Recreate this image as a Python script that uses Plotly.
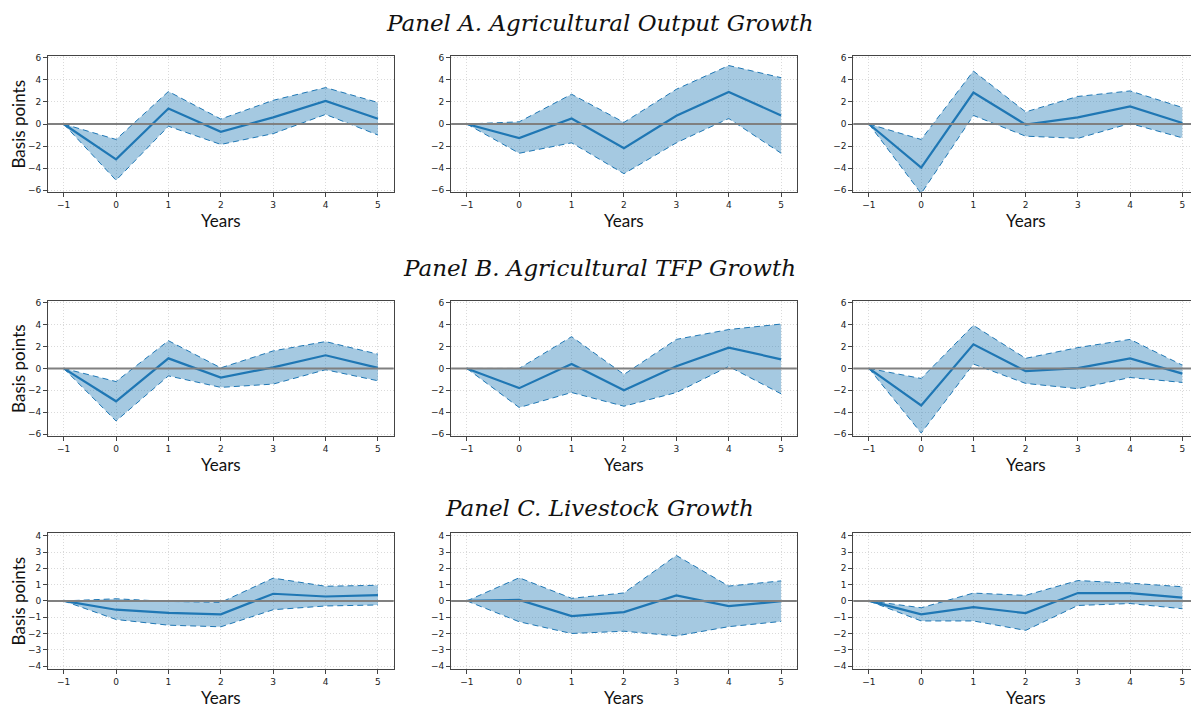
import plotly.graph_objects as go

years = [-1, 0, 1, 2, 3, 4, 5]

panel_titles = ["Panel A. Agricultural Output Growth",
                "Panel B. Agricultural TFP Growth",
                "Panel C. Livestock Growth"]

# Panel A
a1_est = [0, -3.2, 1.4, -0.7, 0.6, 2.1, 0.48]
a1_hi = [0, -1.4, 2.95, 0.45, 2.15, 3.3, 1.95]
a1_lo = [0, -5.1, -0.2, -1.85, -0.87, 0.87, -1.0]

a2_est = [0, -1.28, 0.5, -2.2, 0.75, 2.9, 0.78]
a2_hi = [0, 0.2, 2.7, 0.15, 3.15, 5.3, 4.2]
a2_lo = [0, -2.65, -1.7, -4.5, -1.7, 0.5, -2.65]

a3_est = [0, -3.95, 2.85, -0.05, 0.6, 1.6, 0.1]
a3_hi = [0, -1.4, 4.8, 1.1, 2.5, 3.0, 1.5]
a3_lo = [0, -6.3, 0.78, -1.1, -1.3, 0.05, -1.25]

# Panel B
b1_est = [0, -3.0, 0.92, -0.83, 0.1, 1.2, 0.05]
b1_hi = [0, -1.2, 2.53, 0.05, 1.6, 2.45, 1.3]
b1_lo = [0, -4.8, -0.68, -1.73, -1.43, -0.12, -1.13]

b2_est = [0, -1.8, 0.4, -2.0, 0.2, 1.9, 0.83]
b2_hi = [0, 0.0, 2.9, -0.55, 2.65, 3.55, 4.05]
b2_lo = [0, -3.57, -2.2, -3.45, -2.2, 0.18, -2.32]

b3_est = [0, -3.38, 2.2, -0.25, 0.03, 0.92, -0.48]
b3_hi = [0, -0.92, 3.93, 0.92, 1.9, 2.65, 0.3]
b3_lo = [0, -5.9, 0.4, -1.37, -1.85, -0.83, -1.28]

# Panel C
c1_est = [0, -0.54, -0.74, -0.82, 0.44, 0.27, 0.35]
c1_hi = [0, 0.13, -0.03, -0.09, 1.4, 0.9, 0.96]
c1_lo = [0, -1.14, -1.49, -1.59, -0.54, -0.31, -0.25]

c2_est = [0, 0.06, -0.93, -0.69, 0.34, -0.32, -0.02]
c2_hi = [0, 1.42, 0.16, 0.49, 2.79, 0.91, 1.23]
c2_lo = [0, -1.28, -2.0, -1.86, -2.15, -1.58, -1.26]

c3_est = [0, -0.83, -0.38, -0.75, 0.48, 0.48, 0.2]
c3_hi = [0, -0.42, 0.48, 0.34, 1.25, 1.09, 0.87]
c3_lo = [0, -1.23, -1.23, -1.81, -0.28, -0.16, -0.48]

panels = [
    [(a1_est, a1_hi, a1_lo), (a2_est, a2_hi, a2_lo), (a3_est, a3_hi, a3_lo)],
    [(b1_est, b1_hi, b1_lo), (b2_est, b2_hi, b2_lo), (b3_est, b3_hi, b3_lo)],
    [(c1_est, c1_hi, c1_lo), (c2_est, c2_hi, c2_lo), (c3_est, c3_hi, c3_lo)],
]

# page has an 8px body margin; figure coordinates are page coordinates minus OFF
OFF = 8
W, H = 1199 - OFF, 710 - OFF
col_px = [(48, 394), (451.5, 797.5), (854, 1199)]
row_px = [(53, 191), (300, 437), (534, 672)]
y_ranges = [(-6.2, 6.2), (-6.2, 6.2), (-4.2, 4.2)]
y_ticks = [[-6, -4, -2, 0, 2, 4, 6], [-6, -4, -2, 0, 2, 4, 6], [-4, -3, -2, -1, 0, 1, 2, 3, 4]]
title_y_px = [20, 267, 509]


def px(v):
    return (v - OFF) / W


def py(v):
    return 1 - (v - OFF) / H


blue = "#1f77b4"
fillc = "rgba(31,119,180,0.4)"
tickfont = dict(family="DejaVu Sans", size=9, color="#222222")
labfont = dict(family="Lato", size=17, color="#111111")

fig = go.Figure()
annotations = []
shapes = []
layout = {}

k = 0
for r in range(3):
    for c in range(3):
        k += 1
        est, hi, lo = panels[r][c]
        xa = "x" if k == 1 else f"x{k}"
        ya = "y" if k == 1 else f"y{k}"
        fig.add_trace(go.Scatter(x=years, y=lo, mode="lines", line=dict(width=0),
                                 xaxis=xa, yaxis=ya, showlegend=False, hoverinfo="skip"))
        fig.add_trace(go.Scatter(x=years, y=hi, mode="lines", line=dict(width=0),
                                 fill="tonexty", fillcolor=fillc,
                                 xaxis=xa, yaxis=ya, showlegend=False, hoverinfo="skip"))
        for b in (hi, lo):
            fig.add_trace(go.Scatter(x=years, y=b, mode="lines",
                                     line=dict(color=blue, width=1, dash="6px,4px"),
                                     xaxis=xa, yaxis=ya, showlegend=False))
        x0, x1 = col_px[c]
        y0, y1 = row_px[r]
        shapes.append(dict(type="line", xref=f"{xa} domain", yref=ya, x0=0, x1=1, y0=0, y1=0,
                           line=dict(color="#808080", width=2), layer="above"))
        fig.add_trace(go.Scatter(x=years, y=est, mode="lines",
                                 line=dict(color=blue, width=2.2),
                                 xaxis=xa, yaxis=ya, showlegend=False))
        axis_common = dict(showline=True, linecolor="#444444", linewidth=1, mirror=True,
                           ticks="outside", ticklen=4, tickcolor="#444444", tickwidth=1,
                           showgrid=True, gridcolor="#dadada", griddash="1px,2px", gridwidth=1,
                           zeroline=False, tickfont=tickfont)
        layout["xaxis" if k == 1 else f"xaxis{k}"] = dict(
            domain=[px(x0), min(1, px(x1))], anchor=ya, range=[-1.3, 5.3],
            tickvals=years, **axis_common)
        layout["yaxis" if k == 1 else f"yaxis{k}"] = dict(
            domain=[py(y1), py(y0)], anchor=xa, range=list(y_ranges[r]),
            tickvals=y_ticks[r], **axis_common)
        annotations.append(dict(text="Years", xref="paper", yref="paper",
                                x=px((x0 + x1) / 2), y=py(y1 + 28),
                                showarrow=False, font=labfont, xanchor="center", yanchor="middle"))
    annotations.append(dict(text="Basis points", xref="paper", yref="paper",
                            x=px(18.5), y=py((row_px[r][0] + row_px[r][1]) / 2),
                            textangle=-90, showarrow=False, font=labfont,
                            xanchor="center", yanchor="middle"))
    annotations.append(dict(text="<i>" + panel_titles[r] + "</i>", xref="paper", yref="paper",
                            x=px(600), y=py(title_y_px[r]), showarrow=False,
                            font=dict(family="DejaVu Serif", size=23, color="#111111"),
                            xanchor="center", yanchor="middle"))

fig.update_layout(width=W, height=H, margin=dict(l=0, r=0, t=0, b=0),
                  paper_bgcolor="white", plot_bgcolor="white",
                  annotations=annotations, shapes=shapes, **layout)

fig.write_html("out.html")
